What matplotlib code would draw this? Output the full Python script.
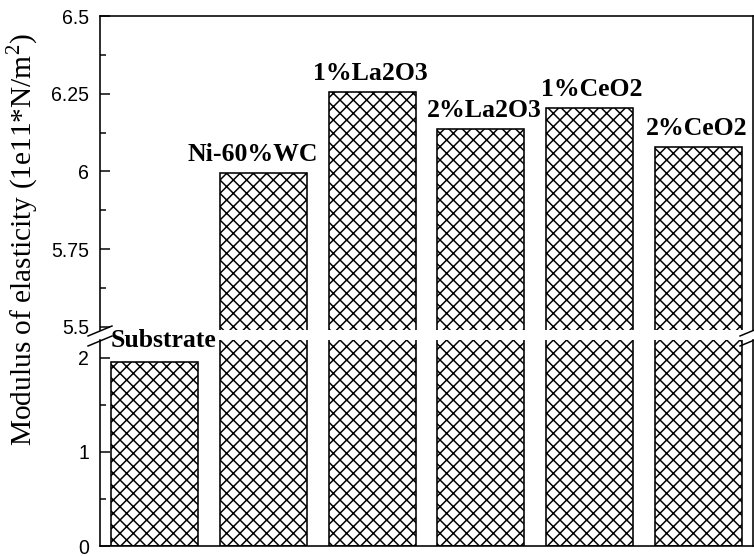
import numpy as np
import matplotlib
matplotlib.use('Agg')
import matplotlib.pyplot as plt
from matplotlib.ticker import MultipleLocator, FuncFormatter

W, H = 754, 556
DPI = 80


def px(v):
    # pixel size -> points at the saving dpi
    return v * 72.0 / DPI


plt.rcParams['font.family'] = 'Liberation Sans'
plt.rcParams['mathtext.fontset'] = 'custom'
plt.rcParams['mathtext.rm'] = 'Liberation Serif'
plt.rcParams['hatch.linewidth'] = px(1.5)
plt.rcParams['hatch.color'] = 'black'

# modulus of elasticity, 1e11 N/m^2
samples = ['Substrate', 'Ni-60%WC', '1%La2O3', '2%La2O3', '1%CeO2', '2%CeO2']
modulus = [1.96, 5.995, 6.256, 6.135, 6.203, 6.078]

x = np.arange(len(samples))

fig = plt.figure(figsize=(W / DPI, H / DPI), dpi=DPI)
ax_top = fig.add_axes([100 / W, 1 - 330 / H, 653 / W, 314 / H])
ax_bot = fig.add_axes([100 / W, 1 - 546 / H, 653 / W, 206 / H])
ax_top.set_facecolor('none')

fmt = FuncFormatter(lambda v, pos: '%g' % v)

for ax in (ax_top, ax_bot):
    ax.bar(x, modulus, width=0.8, color='white', edgecolor='black',
           linewidth=px(1.6), hatch='xx')
    ax.set_xlim(-0.5, 5.5)
    ax.set_xticks([])
    ax.yaxis.set_major_formatter(fmt)
    ax.tick_params(axis='y', which='both', direction='in', right=False,
                   labelsize=px(19.5), pad=px(11), width=px(1.5))
    ax.tick_params(axis='y', which='major', length=px(10))
    ax.tick_params(axis='y', which='minor', length=px(6))
    for s in ax.spines.values():
        s.set_linewidth(px(1.6))

# upper part of the broken axis
ax_top.set_ylim(5.49, 6.5)
ax_top.yaxis.set_major_locator(MultipleLocator(0.25))
ax_top.yaxis.set_minor_locator(MultipleLocator(0.125))
ax_top.spines['bottom'].set_visible(False)

# lower part
ax_bot.set_ylim(0, 2.19)
ax_bot.yaxis.set_major_locator(MultipleLocator(1))
ax_bot.yaxis.set_minor_locator(MultipleLocator(0.5))
ax_bot.spines['top'].set_visible(False)

# sample names above the bars (shift in pixels)
shift_x = [9, -11, -2, 3, 2, -2]
shift_y = [15, 12, 12, 12, 12, 12]
for i, (name, val) in enumerate(zip(samples, modulus)):
    ax = ax_bot if val < 3 else ax_top
    ax.annotate(name, (x[i], val), xytext=(px(shift_x[i]), px(shift_y[i])),
                textcoords='offset points', ha='center', va='baseline',
                family='Liberation Serif', fontweight='bold',
                fontsize=px(25.7), annotation_clip=False)

# break marks on both side spines
for xc in (100, 752):
    for yc in (331, 341):
        fig.add_artist(plt.Line2D([(xc - 12) / W, (xc + 12) / W],
                                  [1 - (yc + 5) / H, 1 - (yc - 5) / H],
                                  transform=fig.transFigure, color='black',
                                  linewidth=px(1.5)))

fig.text(22 / W, 1 - 240 / H, 'Modulus of elasticity (1e11*N/m$^2$)',
         rotation=90, ha='center', va='center', family='Liberation Serif',
         fontsize=px(29.4))

fig.savefig('out.png', dpi=DPI)
